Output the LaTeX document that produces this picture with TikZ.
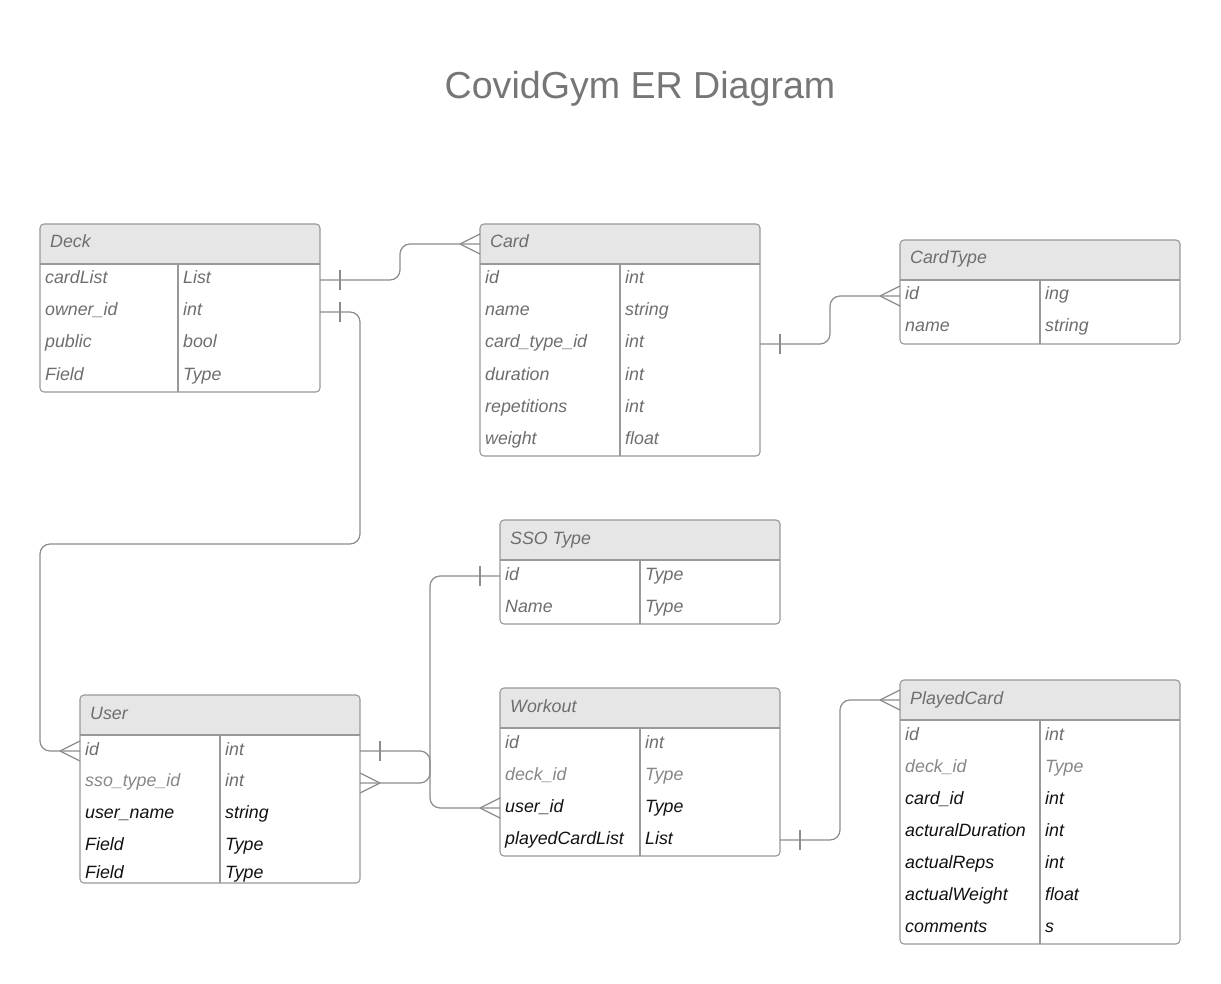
\documentclass[tikz,border=0pt]{standalone}
\usepackage{fontspec}
\setmainfont{Liberation Sans}
\usetikzlibrary{calc}
\definecolor{bordc}{HTML}{999999}
\definecolor{linec}{HTML}{8C8C8C}
\definecolor{hdrc}{HTML}{E6E6E6}
\definecolor{txtg}{HTML}{6E6E6E}
\definecolor{txtl}{HTML}{878787}
\definecolor{txtk}{HTML}{111111}
\definecolor{titc}{HTML}{767676}
\tikzset{
 tbl/.style={draw=bordc, line width=1.1pt, rounded corners=4pt, inner sep=0pt, outer sep=0pt},
 sepline/.style={draw=bordc, line width=1.1pt},
 hdr/.style={font=\fontsize{17.8}{20}\selectfont\itshape, text=txtg, inner sep=0pt},
 fld/.style={font=\fontsize{17.8}{20}\selectfont\itshape, inner sep=0pt},
 conn/.style={draw=linec, line width=1.2pt, rounded corners=10pt},
 tipline/.style={draw=linec, line width=1.2pt},
}
% table frame: name, x, y, w, h, divider x, title
\newcommand\ertab[7]{%
  \begin{scope}
    \clip[rounded corners=4pt] (#2,#3) rectangle (#2+#4,#3+#5);
    \fill[hdrc] (#2,#3) rectangle (#2+#4,#3+40);
  \end{scope}
  \node[tbl, minimum width=#4pt, minimum height=#5pt, anchor=north west] (#1) at (#2,#3) {};
  \draw[sepline] (#2,#3+40) -- (#2+#4,#3+40);
  \draw[sepline] (#6,#3+40) -- (#6,#3+#5);
  \node[hdr, anchor=base west] (#1-title) at (#2+10,#3+24) {#7};
}
% row: name, x left, divider x, baseline, colour, field, type
\newcommand\errow[7]{%
  \node[fld, text=#5, anchor=base west] (#1-f) at (#2+5,#4) {#6};
  \node[fld, text=#5, anchor=base west] (#1-t) at (#3+5,#4) {#7};
}
\newcommand\tickR[1]{\draw[tipline] ($(#1)+(20,-10)$) -- ++(0,20);}
\newcommand\tickL[1]{\draw[tipline] ($(#1)+(-20,-10)$) -- ++(0,20);}
\newcommand\crowL[1]{\draw[tipline] ($(#1)+(-20,0)$) -- ++(20,-10) ($(#1)+(-20,0)$) -- ++(20,10);}
\newcommand\crowR[1]{\draw[tipline] ($(#1)+(20,0)$) -- ++(-20,-10) ($(#1)+(20,0)$) -- ++(-20,10);}
\begin{document}
\begin{tikzpicture}[x=1pt,y=-1pt]
\fill[white] (0,0) rectangle (1221,984);
\useasboundingbox (0,0) rectangle (1221,984);

\node[font=\fontsize{37.6}{44}\selectfont, text=titc, anchor=base, inner sep=0pt] (title) at (640,99) {CovidGym ER Diagram};

% tables (frames)
\ertab{deck}{40}{224}{280}{168}{178}{Deck}
\ertab{card}{480}{224}{280}{232}{620}{Card}
\ertab{ct}{900}{240}{280}{104}{1040}{CardType}
\ertab{sso}{500}{520}{280}{104}{640}{SSO Type}
\ertab{user}{80}{695}{280}{188}{220}{User}
\ertab{work}{500}{688}{280}{168}{640}{Workout}
\ertab{pc}{900}{680}{280}{264}{1040}{PlayedCard}

% Deck rows
\errow{deck1}{40}{178}{284}{txtg}{cardList}{List}
\errow{deck2}{40}{178}{316}{txtg}{owner\_id}{int}
\errow{deck3}{40}{178}{348}{txtg}{public}{bool}
\errow{deck4}{40}{178}{380}{txtg}{Field}{Type}
% Card rows
\errow{card1}{480}{620}{284}{txtg}{id}{int}
\errow{card2}{480}{620}{316}{txtg}{name}{string}
\errow{card3}{480}{620}{348}{txtg}{card\_type\_id}{int}
\errow{card4}{480}{620}{380}{txtg}{duration}{int}
\errow{card5}{480}{620}{412}{txtg}{repetitions}{int}
\errow{card6}{480}{620}{444}{txtg}{weight}{float}
% CardType rows
\errow{ct1}{900}{1040}{300}{txtg}{id}{ing}
\errow{ct2}{900}{1040}{332}{txtg}{name}{string}
% SSO rows
\errow{sso1}{500}{640}{580}{txtg}{id}{Type}
\errow{sso2}{500}{640}{612}{txtg}{Name}{Type}
% User rows
\errow{user1}{80}{220}{755}{txtg}{id}{int}
\node[fld, text=txtl, anchor=base west] (user2-f) at (85,786) {sso\_type\_id};
\node[fld, text=txtg, anchor=base west] (user2-t) at (225,786) {int};
\errow{user3}{80}{220}{818}{txtk}{user\_name}{string}
\errow{user4}{80}{220}{850}{txtk}{Field}{Type}
\errow{user5}{80}{220}{878}{txtk}{Field}{Type}
% Workout rows
\errow{work1}{500}{640}{748}{txtg}{id}{int}
\errow{work2}{500}{640}{780}{txtl}{deck\_id}{Type}
\errow{work3}{500}{640}{812}{txtk}{user\_id}{Type}
\errow{work4}{500}{640}{844}{txtk}{playedCardList}{List}
% PlayedCard rows
\errow{pc1}{900}{1040}{740}{txtg}{id}{int}
\errow{pc2}{900}{1040}{772}{txtl}{deck\_id}{Type}
\errow{pc3}{900}{1040}{804}{txtk}{card\_id}{int}
\errow{pc4}{900}{1040}{836}{txtk}{acturalDuration}{int}
\errow{pc5}{900}{1040}{868}{txtk}{actualReps}{int}
\errow{pc6}{900}{1040}{900}{txtk}{actualWeight}{float}
\errow{pc7}{900}{1040}{932}{txtk}{comments}{s}

% connector end points
\path (deck.north east) ++(0,56) coordinate (deck-r1);
\path (deck.north east) ++(0,88) coordinate (deck-r2);
\path (card.north west) ++(0,20) coordinate (card-h);
\path (card.north east) ++(0,120) coordinate (card-r3);
\path (ct.north west) ++(0,56) coordinate (ct-r1);
\path (user.north west) ++(0,56) coordinate (user-r1w);
\path (user.north east) ++(0,56) coordinate (user-r1e);
\path (user.north east) ++(0,88) coordinate (user-r2e);
\path (sso.north west) ++(0,56) coordinate (sso-r1);
\path (work.north west) ++(0,120) coordinate (work-r3);
\path (work.north east) ++(0,152) coordinate (work-r4);
\path (pc.north west) ++(0,20) coordinate (pc-h);

% connectors
\draw[conn] (deck-r1) -- ++(80,0) |- (card-h);
\draw[conn] (deck-r2) -- ++(40,0) -- ++(0,232) -- ++(-320,0) |- (user-r1w);
\draw[conn] (card-r3) -- ++(70,0) |- (ct-r1);
\draw[conn] (user-r1e) -- ++(70,0) |- (work-r3);
\draw[conn] (user-r2e) -- ++(70,0) |- (sso-r1);
\draw[conn] (work-r4) -- ++(60,0) |- (pc-h);

% ends
\tickR{deck-r1} \crowL{card-h}
\tickR{deck-r2} \crowL{user-r1w}
\tickR{card-r3} \crowL{ct-r1}
\tickR{user-r1e} \crowL{work-r3}
\crowR{user-r2e} \tickL{sso-r1}
\tickR{work-r4} \crowL{pc-h}
\end{tikzpicture}
\end{document}
